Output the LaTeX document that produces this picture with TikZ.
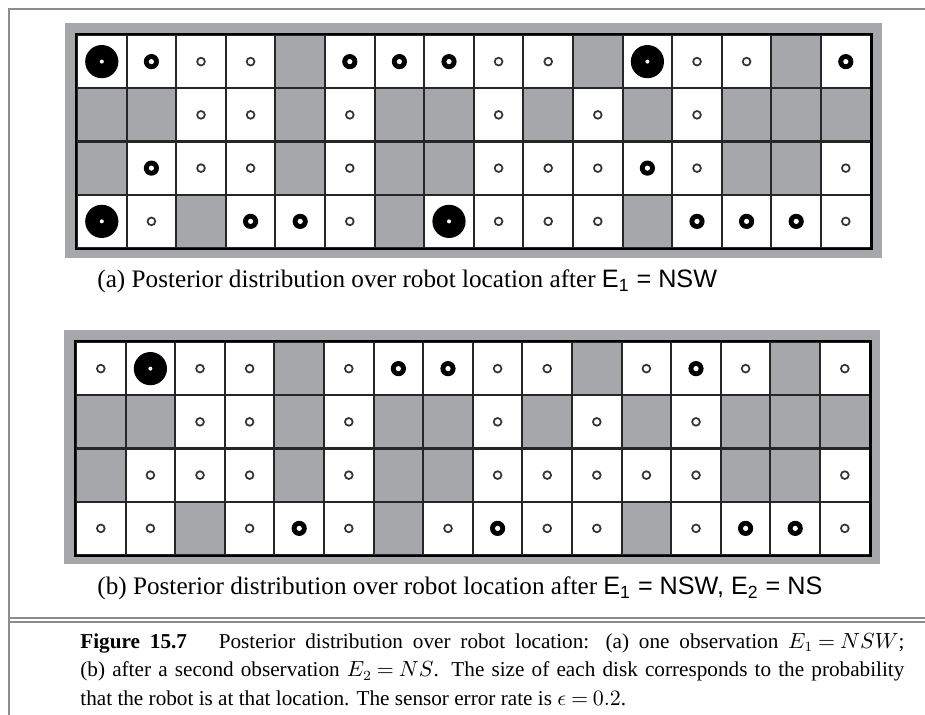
\documentclass[tikz,border=0pt]{standalone}
\usepackage{fontspec}
\setmainfont{Liberation Serif}
\newfontfamily\obsfont{Liberation Sans}
\usetikzlibrary{positioning}
\definecolor{wall}{RGB}{166,167,171}
\definecolor{frame}{RGB}{140,140,140}

\begin{document}
\begin{tikzpicture}[x=0.5pt,y=-0.5pt]
			\def\cw{49.6}
			\def\ch{53.25}

			\tikzset{line/.style={draw,line width=1pt}}
			\tikzset{cell/.style={line,black!85,fill=white,minimum width=24.8pt,minimum height=26.6pt,inner sep=0pt}}
			\tikzset{wallcell/.style={cell,fill=wall}}
			\tikzset{rim/.style={fill=wall}}
			\tikzset{rule/.style={draw=frame,line width=0.7pt}}
			\tikzset{caption/.style={anchor=west,inner sep=0pt,font=\fontsize{12.6}{15}\selectfont}}

			% Disk: 1 small ring, 2 thick ring, 3 big disk
			\tikzset{pics/disk/.style={code={%
								\ifcase#1 \or
									\fill[black!80] (0,0) circle[radius=2.4pt];
									\fill[white] (0,0) circle[radius=1.4pt];
								\or
									\fill (0,0) circle[radius=3.8pt];
									\fill[white] (0,0) circle[radius=1.3pt];
								\or
									\fill (0,0) circle[radius=8.3pt];
									\fill[white] (0,0) circle[radius=1pt];
								\fi
							}}}

			\useasboundingbox (0,0) rectangle (925,715);

			\draw[rule] (9,715) -- (9,9) -- (925,9);
			\draw[rule] (9,618) -- (925,618);
			\draw[rule] (9,622) -- (925,622);

			% (a) after E1
			\fill[rim] (65,23) rectangle (882,258);
			\foreach \vals [count=\r] in {{3,2,1,1,0,2,2,2,1,1,0,3,1,1,0,2},
					{0,0,1,1,0,1,0,0,1,0,1,0,1,0,0,0},
					{0,2,1,1,0,1,0,0,1,1,1,2,1,0,0,1},
					{3,1,0,2,2,1,0,3,1,1,1,0,2,2,2,1}} {
				\foreach \v [count=\c] in \vals {
					\ifnum\v=0
						\node[wallcell] (a-\r-\c) at ({77+(\c-0.5)*\cw},{35+(\r-0.5)*\ch}) {};
					\else
						\node[cell] (a-\r-\c) at ({77+(\c-0.5)*\cw},{35+(\r-0.5)*\ch}) {};
						\pic at (a-\r-\c) {disk=\v};
					\fi
				}
			}
			\draw[line,line width=1.3pt] (a-1-1.north west) rectangle (a-4-16.south east);
			\node[caption] (capa) at (97,281) {(a) Posterior distribution over robot location after {\obsfont E\textsubscript{1} = NSW}};

			% (b) after E1, E2
			\fill[rim] (64,330) rectangle (880,564);
			\foreach \vals [count=\r] in {{1,3,1,1,0,1,2,2,1,1,0,1,2,1,0,1},
					{0,0,1,1,0,1,0,0,1,0,1,0,1,0,0,0},
					{0,1,1,1,0,1,0,0,1,1,1,1,1,0,0,1},
					{1,1,0,1,2,1,0,1,2,1,1,0,1,2,2,1}} {
				\foreach \v [count=\c] in \vals {
					\ifnum\v=0
						\node[wallcell] (b-\r-\c) at ({76+(\c-0.5)*\cw},{342+(\r-0.5)*\ch}) {};
					\else
						\node[cell] (b-\r-\c) at ({76+(\c-0.5)*\cw},{342+(\r-0.5)*\ch}) {};
						\pic at (b-\r-\c) {disk=\v};
					\fi
				}
			}
			\draw[line,line width=1.3pt] (b-1-1.north west) rectangle (b-4-16.south east);
			\node[caption] (capb) at (97,588) {(b) Posterior distribution over robot location after {\obsfont E\textsubscript{1} = NSW, E\textsubscript{2} = NS}};

			\node[anchor=north west,text width=412pt,align=justify,inner sep=0pt,font=\fontsize{10.6}{14.25}\selectfont] (fig) at (80,633)
				{\thickmuskip=4mu\relax
				\textbf{Figure 15.7}\hspace{1.5em}Posterior distribution over robot location: (a) one observation $E_1 = NSW$;\linebreak
				(b) after a second observation $E_2 = NS$. The size of each disk corresponds to the probability\linebreak
				that the robot is at that location. The sensor error rate is $\epsilon = 0.2$.};
		\end{tikzpicture}
\end{document}
